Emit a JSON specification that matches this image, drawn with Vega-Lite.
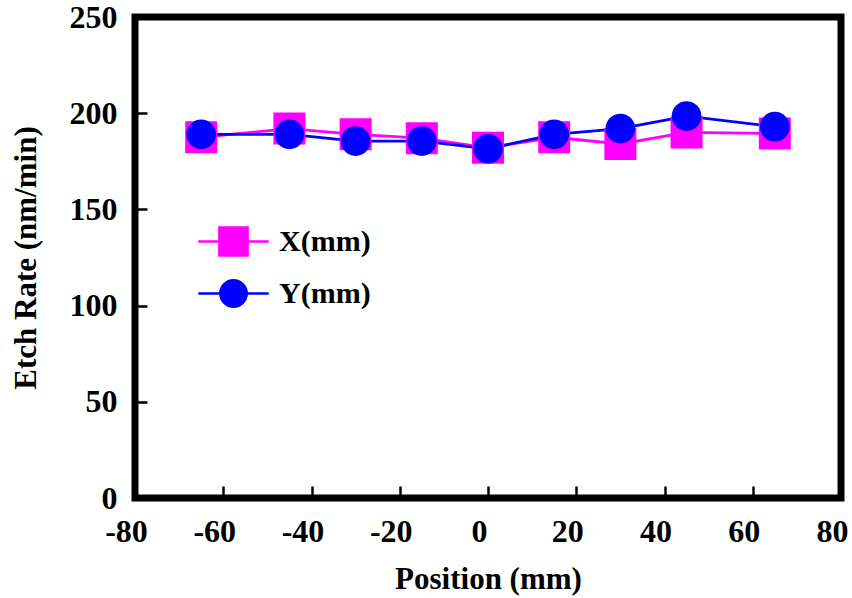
{
  "$schema": "https://vega.github.io/schema/vega-lite/v6.json",
  "width": 706,
  "height": 481,
  "autosize": "none",
  "padding": {"left": 135, "top": 17, "right": 11, "bottom": 100},
  "background": "white",
  "config": {
    "view": {"stroke": "black", "strokeWidth": 7},
    "font": "Liberation Serif",
    "axis": {
      "domain": false,
      "grid": false,
      "tickColor": "black",
      "tickWidth": 2.5,
      "tickSize": -12,
      "labelFont": "Liberation Serif",
      "labelFontWeight": "bold",
      "labelFontSize": 32,
      "labelColor": "black",
      "labelExpr": "'' + datum.value",
      "titleFont": "Liberation Serif",
      "titleFontWeight": "bold",
      "titleFontSize": 31,
      "titleColor": "black"
    }
  },
  "data": {
    "values": [
      {"pos": -65, "rate": 187.5, "series": "X(mm)"},
      {"pos": -45, "rate": 192, "series": "X(mm)"},
      {"pos": -30, "rate": 189, "series": "X(mm)"},
      {"pos": -15, "rate": 187, "series": "X(mm)"},
      {"pos": 0, "rate": 182, "series": "X(mm)"},
      {"pos": 15, "rate": 187.5, "series": "X(mm)"},
      {"pos": 30, "rate": 184, "series": "X(mm)"},
      {"pos": 45, "rate": 190, "series": "X(mm)"},
      {"pos": 65, "rate": 189.5, "series": "X(mm)"},
      {"pos": -65, "rate": 189, "series": "Y(mm)"},
      {"pos": -45, "rate": 189, "series": "Y(mm)"},
      {"pos": -30, "rate": 185.5, "series": "Y(mm)"},
      {"pos": -15, "rate": 185.5, "series": "Y(mm)"},
      {"pos": 0, "rate": 181.5, "series": "Y(mm)"},
      {"pos": 15, "rate": 189, "series": "Y(mm)"},
      {"pos": 30, "rate": 192, "series": "Y(mm)"},
      {"pos": 45, "rate": 198.5, "series": "Y(mm)"},
      {"pos": 65, "rate": 193, "series": "Y(mm)"}
    ]
  },
  "encoding": {
    "x": {
      "field": "pos",
      "type": "quantitative",
      "scale": {"domain": [-80, 80], "nice": false, "zero": false},
      "axis": {"values": [-80, -60, -40, -20, 0, 20, 40, 60, 80], "labelFlush": false, "labelOffset": -9, "labelPadding": 30, "title": "Position (mm)", "titlePadding": 17}
    },
    "y": {
      "field": "rate",
      "type": "quantitative",
      "scale": {"domain": [0, 250], "nice": false},
      "axis": {"values": [0, 50, 100, 150, 200, 250], "labelFlush": false, "labelPadding": 30, "title": "Etch Rate (nm/min)", "titlePadding": 27}
    },
    "color": {
      "field": "series",
      "type": "nominal",
      "scale": {"domain": ["X(mm)", "Y(mm)"], "range": ["#FF00FF", "#0000FF"]},
      "legend": {
        "orient": "none",
        "legendX": 75,
        "legendY": 201,
        "title": null,
        "padding": 0,
        "symbolSize": 1936,
        "rowPadding": 9,
        "labelOffset": 22,
        "labelFont": "Liberation Serif",
        "labelFontWeight": "bold",
        "labelFontSize": 30,
        "labelColor": "black",
        "labelLimit": 300,
        "encode": {
          "symbols": {
            "update": {
              "shape": {"signal": "datum.value === 'X(mm)' ? 'M-1.6,0H-0.64M0.64,0H1.6M-0.64,-0.64H0.64V0.64H-0.64Z' : 'M-1.6,0H-0.6M0.6,0H1.6M-0.6,0A0.6,0.6 0 1,0 0.6,0A0.6,0.6 0 1,0 -0.6,0Z'"},
              "fill": {"scale": "color", "field": "value"},
              "stroke": {"scale": "color", "field": "value"},
              "strokeWidth": {"value": 2.5},
              "opacity": {"value": 1}
            }
          }
        }
      }
    }
  },
  "layer": [
    {
      "mark": {"type": "line", "strokeWidth": 2.8},
      "encoding": {}
    },
    {
      "transform": [{"filter": "datum.series === 'X(mm)'"}],
      "mark": {"type": "point", "shape": "square", "filled": true, "opacity": 1, "size": 1024}
    },
    {
      "transform": [{"filter": "datum.series === 'Y(mm)'"}],
      "mark": {"type": "point", "shape": "circle", "filled": true, "opacity": 1, "size": 880}
    }
  ]
}
